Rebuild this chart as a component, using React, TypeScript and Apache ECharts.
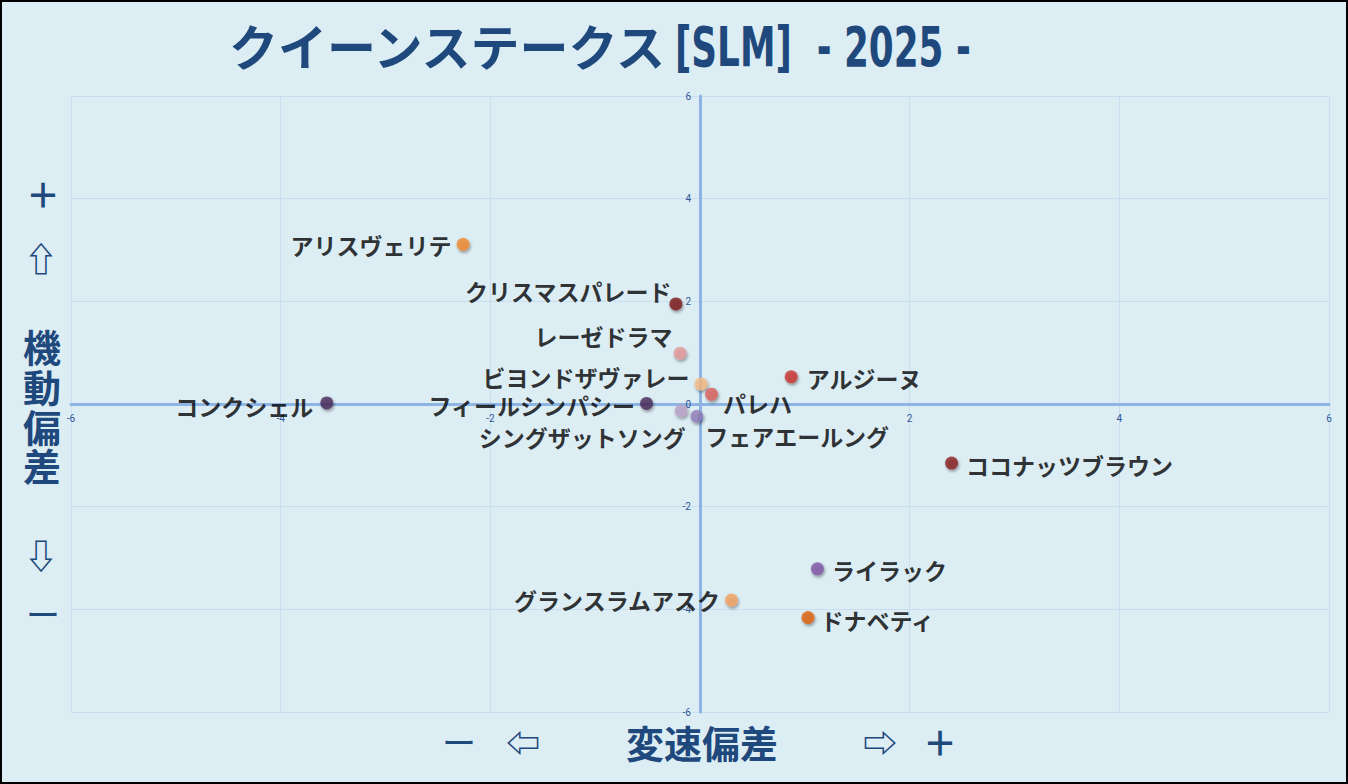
import React, { useEffect, useRef } from "react";
import * as echarts from "echarts";

// horse names and their two deviations (x: 変速偏差, y: 機動偏差)
const HORSES = [
  "アリスヴェリテ",
  "クリスマスパレード",
  "レーゼドラマ",
  "ビヨンドザヴァレー",
  "アルジーヌ",
  "パレハ",
  "コンクシェル",
  "フィールシンパシー",
  "シングザットソング",
  "フェアエールング",
  "ココナッツブラウン",
  "ライラック",
  "グランスラムアスク",
  "ドナベティ",
];
const SPEED_DEV = [-2.26, -0.23, -0.19, 0.01, 0.87, 0.11, -3.56, -0.51, -0.18, -0.03, 2.4, 1.12, 0.3, 1.03];
const MOBILITY_DEV = [3.11, 1.95, 0.99, 0.39, 0.53, 0.19, 0.02, 0.01, -0.13, -0.24, -1.15, -3.21, -3.82, -4.16];

const AXIS_MIN = -6;
const AXIS_MAX = 6;
const AXIS_STEP = 2;

// dot colours, one per horse
const DOT_COLORS = [
  "#f08a30",
  "#7d1d1d",
  "#e59a9b",
  "#f6bc85",
  "#c9342f",
  "#d8625f",
  "#4a2a5c",
  "#4a2a5c",
  "#b9a3c9",
  "#9580bc",
  "#8b2020",
  "#7f58a6",
  "#f2a262",
  "#df6210",
];

// label placement per horse: side + pixel nudge
const LABEL_LAYOUT: [string, number, number][] = [
  ["left", 0, 1],
  ["left", 7, -13],
  ["left", 4, -17],
  ["left", 0, -7],
  ["right", 4, 1],
  ["right", 0, 9],
  ["left", -2, 3],
  ["left", 0, 2],
  ["left", 16, 26],
  ["right", -3, 20],
  ["right", 3, 2],
  ["right", 3, 1],
  ["left", 0, 0],
  ["right", 1, 2],
];

const NAVY = "#1f497d";
const CJK = '"Noto Sans CJK JP", "DejaVu Sans", sans-serif';

// plot box in pixels
const GRID = { left: 71, right: 19, top: 96, bottom: 72 };
const PLOT_W = 1348 - GRID.left - GRID.right;
const PLOT_H = 784 - GRID.top - GRID.bottom;

export default function App() {
  const chartRef = useRef<HTMLDivElement>(null);

  useEffect(() => {
    document.body.style.margin = "0";
    if (!chartRef.current) return;
    const chart = echarts.init(chartRef.current, undefined, { renderer: "svg" });

    const points = HORSES.map((name, i) => ({
      name,
      value: [SPEED_DEV[i], MOBILITY_DEV[i]],
      itemStyle: { color: DOT_COLORS[i] },
      label: {
        position: LABEL_LAYOUT[i][0],
        offset: [LABEL_LAYOUT[i][1], LABEL_LAYOUT[i][2]],
      },
    }));

    const axisLabel = { color: "#2f5597", fontSize: 10, fontFamily: "Roboto, sans-serif" };

    const sideText = (text: string, x: number, y: number, size = 34, weight = "bold") => ({
      type: "text",
      x,
      y,
      silent: true,
      style: {
        text,
        fill: NAVY,
        font: `${weight} ${size}px ${CJK}`,
        align: "center",
        verticalAlign: "middle",
      },
    });

    const option: echarts.EChartsOption = {
      animation: false,
      backgroundColor: "#dcedf4",
      grid: GRID,
      xAxis: {
        type: "value",
        min: AXIS_MIN,
        max: AXIS_MAX,
        interval: AXIS_STEP,
        position: "bottom",
        offset: -PLOT_H / 2,
        axisLine: { onZero: false, lineStyle: { color: "#8db4e2", width: 3 } },
        axisTick: { show: false },
        axisLabel: { ...axisLabel, margin: 9 },
        splitLine: { lineStyle: { color: "#c9def0", width: 1 } },
        z: 2,
      },
      yAxis: {
        type: "value",
        min: AXIS_MIN,
        max: AXIS_MAX,
        interval: AXIS_STEP,
        position: "left",
        offset: -PLOT_W / 2,
        axisLine: { onZero: false, lineStyle: { color: "#8db4e2", width: 3 } },
        axisTick: { show: false },
        axisLabel: { ...axisLabel, margin: 9 },
        splitLine: { lineStyle: { color: "#c9def0", width: 1 } },
        z: 2,
      },
      series: [
        {
          type: "scatter",
          symbolSize: 13,
          data: points,
          itemStyle: {
            shadowBlur: 3,
            shadowColor: "rgba(0,0,0,0.45)",
            shadowOffsetX: 1,
            shadowOffsetY: 2,
          },
          label: {
            show: true,
            formatter: "{b}",
            distance: 5,
            color: "#000",
            fontSize: 23,
            fontWeight: "bold",
            fontFamily: CJK,
          },
          z: 3,
        },
      ],
      graphic: [
        {
          type: "text",
          x: 229,
          y: 44,
          silent: true,
          style: {
            text: "クイーンステークス",
            fill: NAVY,
            font: `bold 49px ${CJK}`,
            align: "left",
            verticalAlign: "middle",
          },
        },
        {
          type: "text",
          x: 675,
          y: 46,
          scaleX: 0.71,
          silent: true,
          style: {
            text: "[SLM]  - 2025 -",
            fill: NAVY,
            font: 'bold 56px "DejaVu Sans Condensed", "DejaVu Sans", sans-serif',
            align: "left",
            verticalAlign: "middle",
          },
        },
        sideText("＋", 43, 193),
        sideText("⇧", 41, 257),
        sideText("機", 42, 345, 38),
        sideText("動", 42, 385, 38),
        sideText("偏", 42, 425, 38),
        sideText("差", 42, 464, 38),
        sideText("⇩", 41, 554),
        sideText("ー", 43, 613, 34, "normal"),
        sideText("ー", 459, 741, 34, "normal"),
        sideText("⇦", 523, 741),
        sideText("変速偏差", 702, 741, 38),
        sideText("⇨", 880, 741),
        sideText("＋", 940, 741),
        {
          type: "rect",
          silent: true,
          z: 100,
          shape: { x: 1, y: 1, width: 1346, height: 782 },
          style: { fill: "none", stroke: "#000", lineWidth: 2 },
        },
      ],
    };

    chart.setOption(option);
    return () => chart.dispose();
  }, []);

  return (
    <div
      ref={chartRef}
      style={{ position: "fixed", left: 0, top: 0, width: 1348, height: 784 }}
    />
  );
}
